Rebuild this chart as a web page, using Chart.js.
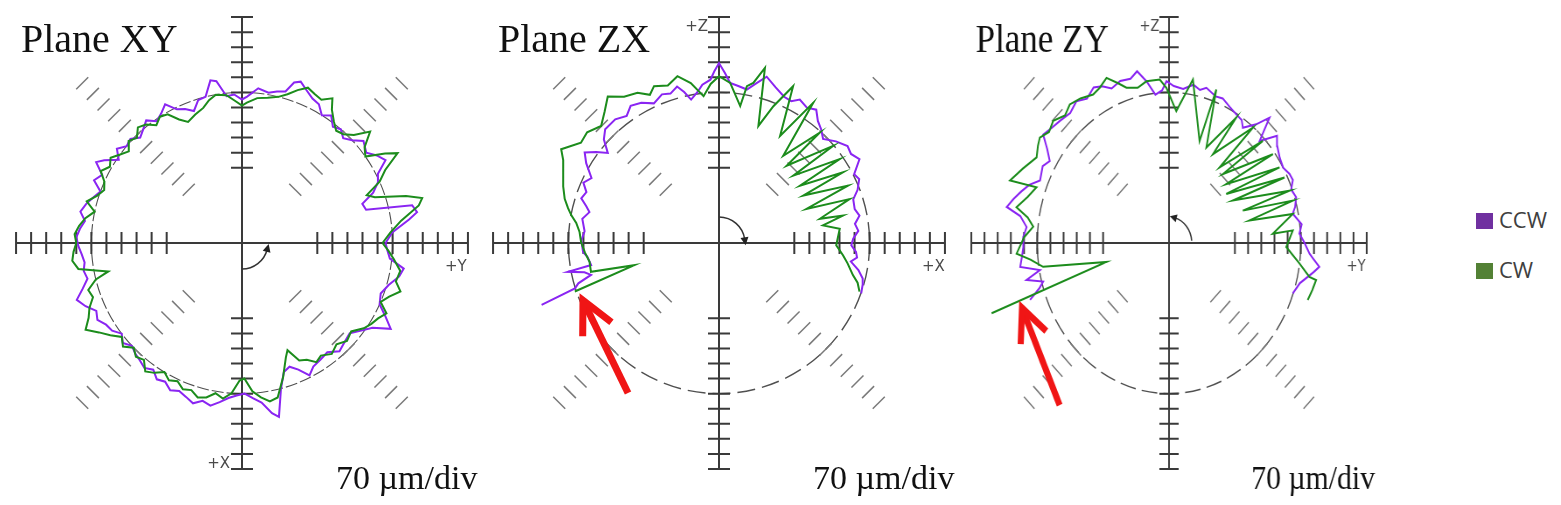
<!DOCTYPE html>
<html>
<head>
<meta charset="utf-8">
<script src="https://cdn.jsdelivr.net/npm/chart.js@4.4.1/dist/chart.umd.min.js"></script>
<style>
  body { margin: 0; background: #fff; width: 1561px; height: 505px; overflow: hidden; position: relative; }
  .panel { position: absolute; top: 0; width: 482px; height: 505px; }
  .panel canvas { position: absolute; left: 0; top: 0; }
  .legend { position: absolute; left: 1476px; font: 22px "Open Sans", sans-serif; color: #404040; line-height: 22px; }
  .legend span { display: inline-block; width: 17px; height: 16px; vertical-align: -1px; margin-right: 6px; }
</style>
</head>
<body>
<div class="panel" id="p1" style="left:1px"><canvas id="c1" width="482" height="505"></canvas></div>
<div class="panel" id="p2" style="left:478px"><canvas id="c2" width="482" height="505"></canvas></div>
<div class="panel" id="p3" style="left:928px; transform: scaleX(0.875); transform-origin: 241px 0;"><canvas id="c3" width="482" height="505"></canvas></div>
<div class="legend" style="top:208px"><span style="background:#7030a0"></span>CCW</div>
<div class="legend" style="top:258px"><span style="background:#538135"></span>CW</div>

<script>
const REF_DIV = 10;      // reference circle radius, in divisions
const UM_PER_DIV = 70;   // plot scale
const AXIS_DIV = 15;

// tick positions along the axes and the diagonals (divisions from centre)
const axisTicks = [5, 6, 7, 8, 9, 10, 11, 12, 13, 14, 15];
const diagTicks = [5, 6, 7, 8, 9, 10, 11, 12, 13, 14, 15];

// traces: [angle in degrees, radial deviation in µm]
const xyCcw = [
  [0, -33], [4, 0], [8, 84], [10, 126], [12.5, 110], [15, -103], [18, -112], [21, -47], [24, -9], [27, 9],
  [30, 70], [33, 47], [36, 14], [40, 37], [43, 0], [46, -23], [49, 0], [52, -14], [55, 23], [58, 0],
  [61, 37], [64, 47], [67, 70], [70, 98], [72, 84], [74, 33], [77, 23], [80, 9], [84, 23], [88, -19],
  [90, -33], [93, -9], [96, -14], [99, 61], [101, 70], [104, 0], [107, -5], [110, -47], [113, -23], [116, -9],
  [119, 37], [122, 9], [125, -9], [128, 23], [131, 0], [134, -19], [137, 9], [140, 0], [143, 28], [146, -9],
  [149, 47], [151, 75], [154, 23], [157, 47], [160, 0], [163, 23], [166, 47], [169, 65], [172, 37], [175, 56],
  [178, 70], [181, 61], [184, 47], [187, 37], [190, 47], [193, 37], [196, 70], [199, 112], [202, 84], [205, 47],
  [208, 61], [211, 37], [214, 28], [217, 0], [220, 23], [223, 0], [226, 14], [229, 23], [232, 37], [235, 19],
  [238, 47], [241, 37], [244, 61], [247, 47], [250, 61], [253, 79], [256, 56], [259, 70], [262, 47], [265, 23],
  [268, 9], [271, 0], [274, 23], [277, 47], [280, 103], [282, 126], [285, 0], [288, -70], [291, -84], [294, -56],
  [297, -9], [300, -37], [304, -47], [308, -56], [312, -23], [316, -37], [320, -47], [324, -9], [327, 23], [330, 98],
  [333, 47], [336, 0], [340, -14], [344, 9], [348, 47], [351, 61], [354, -9], [357, -23], [360, -33]
];
const xyCw = [
  [0, -47], [4, -9], [8, 47], [12, 140], [14, 163], [16, 93], [19, -47], [21, -79], [24, 0], [27, 47],
  [30, 135], [32, 84], [35, 0], [38, 23], [41, 89], [44, 23], [47, -9], [50, -19], [53, 9], [56, 47],
  [58, 93], [61, 61], [64, 70], [67, 84], [70, 56], [73, 23], [76, 0], [80, -14], [84, -23], [88, -47],
  [90, -61], [93, -37], [96, -9], [100, 0], [103, -19], [106, -47], [110, -65], [114, -84], [117, -56], [120, -9],
  [123, 0], [126, -23], [129, 9], [132, 23], [135, -9], [138, 9], [141, -23], [144, 0], [147, 28], [150, 9],
  [153, 37], [156, 0], [159, -14], [162, 9], [165, 47], [168, 0], [171, 37], [174, 61], [177, 79], [180, 70],
  [183, 84], [186, 93], [189, 70], [192, -65], [194, 0], [197, 47], [200, 37], [203, 70], [206, 93], [209, 131],
  [212, 84], [215, 47], [218, 9], [221, 33], [224, 0], [227, 23], [230, 9], [233, 47], [236, 28], [239, 0],
  [242, 23], [245, 9], [248, 33], [251, 23], [254, 47], [257, 37], [260, 9], [263, 28], [266, 0], [269, -61],
  [271, -70], [274, -9], [277, 23], [280, 47], [283, 37], [287, -47], [291, -131], [293, -159], [296, -93], [299, -79],
  [302, -47], [305, -61], [309, -37], [313, -56], [317, -33], [321, -47], [325, -9], [328, 9], [331, 23], [334, 47],
  [337, 0], [340, 28], [343, 70], [346, 37], [350, 47], [354, 9], [357, -19], [360, -47]
];

const zxCcw = [
  [-19.5, 1], [-16, -5], [-13.9, -12], [-11, -40], [-8, -81], [-6, -55], [-3.7, -62], [-1, -85], [1.8, -76], [5, -50],
  [8, -62], [11, -35], [14, -50], [18, -44], [21, -10], [24.5, 16], [27, 5], [30.8, 60], [34, 40], [37, 48],
  [41, 20], [45, -16], [48, 10], [51, 30], [53.9, 67], [57, 50], [60.6, 65], [63, 40], [66, 44], [70, 70],
  [74, 104], [77, 60], [79.7, 25], [83, 35], [86, 46], [88, 90], [90, 136], [91.5, 100], [93, 60], [96, 40],
  [98, 10], [101, -21], [103, 20], [105, 53], [108, 30], [111, 40], [115, 16], [119, 45], [122.8, 58], [126, 30],
  [130, 50], [135, 48], [138, 20], [141, -35], [143.5, 10], [146, 53], [149, 20], [153, -35], [156, -10], [159, -40],
  [162, -27], [164.5, -60], [166.6, -81], [170, -55], [175, -73], [179, -60], [183.8, -67], [186, -85], [189.8, -97], [190.8, 15],
  [192.3, -60], [194, -87], [196, -20], [197.5, 2], [199.2, 173]
];
const zxCw = [
  [-19.1, -9], [-16, -30], [-13.5, -60], [-9, -95], [-5.6, -121], [-1.1, -155], [6.7, -135], [9.6, -210], [12.5, -110], [13.5, -218],
  [18.6, -60], [21.3, -264], [24, -44], [29.4, -251], [29.7, -37], [35.3, -239], [34.8, -17], [42.2, -234], [40.4, -4], [48.8, -223],
  [47.6, -6], [53.6, -197], [56.1, 85], [60.3, -127], [64.7, 106], [68.3, -16], [71.4, -126], [75.3, 141], [77.9, 61], [79.9, 40],
  [81.2, -56], [86, 46], [90, 75], [93, 40], [96, -14], [100, 55], [104, 99], [108, 70], [112.5, 89], [115, 60],
  [118.5, 94], [123, 110], [127.2, 155], [131, 110], [135.2, 72], [140, 100], [144, 93], [149.3, 153], [152, 120], [155.7, 95],
  [160, 70], [164, 46], [167, 20], [169.4, -2], [172, -30], [175.5, -50], [179.6, -59], [184, -75], [188.3, -92], [192.7, -90],
  [194.7, -293], [198.6, 7]
];

const zyCcw = [
  [-19.6, -2], [-15, 20], [-10, 80], [-7.9, 106], [-5.5, 70], [-3.8, 48], [0, 20], [3.6, -6], [7, 10], [11.7, -29],
  [14, -10], [17.5, 8], [21, -5], [24, 20], [26.6, 16], [30, 0], [34, 9], [38, 30], [41, 60], [44.6, -24],
  [47.5, 90], [50, 20], [53.8, -36], [56, -10], [59, -4], [63, 10], [67, 30], [70, 25], [74.6, 48], [77, 30],
  [80, 47], [84, 20], [88, 30], [91, 52], [93, 10], [96, -7], [99, 60], [102, 116], [105, 90], [109, 96],
  [113, 80], [116, 110], [119, 126], [123, 100], [126.8, 122], [131, 100], [135.6, 111], [139, 120], [143, 137], [146, 80],
  [149, 39], [152, 60], [157, 44], [160, 90], [163, 120], [166, 150], [169, 178], [171, 100], [174.4, 60], [178, 75],
  [181.4, 74], [185, 85], [188, 98], [190.4, -3], [192.8, 76], [195, -8], [197, 20], [199.7, 84]
];
const zyCw = [
  [-19.8, 83], [-16, 92], [-12.4, 100], [-11.9, 62], [-7.8, -1], [-1.7, -77], [5.1, -40], [4.5, -147], [11.6, -29], [13.8, -260],
  [16.7, -14], [21, -280], [20.8, -15], [30.2, -307], [26.4, -15], [36.9, -320], [30.9, -16], [42, -291], [36.8, -11], [48.2, -270],
  [43.6, -12], [52.6, -258], [50.3, -3], [60.5, -226], [58.5, -17], [65.9, -214], [70.6, 56], [71.1, -199], [80.5, 70], [86.4, -86],
  [91.1, 21], [93.7, 61], [99.1, 61], [103, 40], [107.4, 56], [110, 90], [113.4, 136], [117, 110], [120.3, 99], [125, 120],
  [129.3, 132], [133, 110], [137.3, 137], [141, 120], [144.5, 143], [147, 130], [150.5, 108], [156, 150], [161, 193], [159.8, 50],
  [164, 80], [168.4, 127], [171, 60], [174, 25], [178, 70], [183.5, 111], [186, 40], [189.4, -22], [194.8, -356], [199.1, 297]
];

const CCW_COLOR = '#8a25f2';
const CW_COLOR = '#1c8c1c';

// polar deviation -> plot coordinates in divisions
function toPoints(trace) {
  return trace.map(([deg, um]) => {
    const r = REF_DIV + um / UM_PER_DIV;
    const a = deg * Math.PI / 180;
    return { x: r * Math.cos(a), y: r * Math.sin(a) };
  });
}

function makeDecor(cfg) {
  return {
    id: 'decor',
    beforeDatasetsDraw(chart) {
      const { ctx, scales: { x, y } } = chart;
      const px = v => x.getPixelForValue(v), py = v => y.getPixelForValue(v);
      const cx = px(0), cy = py(0);
      ctx.save();

      // reference circle
      ctx.strokeStyle = '#505050';
      ctx.lineWidth = cfg.circleWidth;
      ctx.setLineDash(cfg.circleDash);
      ctx.beginPath();
      ctx.ellipse(cx, cy, px(REF_DIV) - cx, cy - py(REF_DIV), 0, 0, Math.PI * 2);
      ctx.stroke();
      ctx.setLineDash([]);

      // hatch marks on the diagonals
      ctx.strokeStyle = '#7a7a7a';
      ctx.lineWidth = 1.5;
      [45, 135, 225, 315].forEach(deg => {
        const a = deg * Math.PI / 180, c = Math.cos(a), s = Math.sin(a);
        diagTicks.forEach(d => {
          const hx = px(d * c), hy = py(d * s);
          ctx.beginPath();
          ctx.moveTo(hx - s * 8.5, hy - c * 8.5);
          ctx.lineTo(hx + s * 8.5, hy + c * 8.5);
          ctx.stroke();
        });
      });

      // axes and ticks
      ctx.strokeStyle = '#3a3a3a';
      ctx.lineWidth = 2;
      ctx.beginPath();
      ctx.moveTo(px(-AXIS_DIV), cy); ctx.lineTo(px(AXIS_DIV), cy);
      ctx.moveTo(cx, py(AXIS_DIV)); ctx.lineTo(cx, py(-AXIS_DIV));
      axisTicks.forEach(d => {
        [d, -d].forEach(v => {
          ctx.moveTo(px(v), cy - 11); ctx.lineTo(px(v), cy + 11);
          ctx.moveTo(cx - 11, py(v)); ctx.lineTo(cx + 11, py(v));
        });
      });
      ctx.stroke();

      // rotation direction arc
      const t = cfg.turn;
      const r = 26;
      const a0 = t.from * Math.PI / 180, a1 = t.to * Math.PI / 180;
      ctx.strokeStyle = '#333';
      ctx.lineWidth = 1.5;
      ctx.beginPath();
      ctx.arc(cx, cy, r, a0, a1, t.anti);
      ctx.stroke();
      const ex = cx + r * Math.cos(a1), ey = cy + r * Math.sin(a1);
      const sgn = t.anti ? -1 : 1;
      const tx = -Math.sin(a1) * sgn, ty = Math.cos(a1) * sgn;
      ctx.fillStyle = '#222';
      ctx.beginPath();
      ctx.moveTo(ex + tx * 6, ey + ty * 6);
      ctx.lineTo(ex - tx * 2 - ty * 4, ey - ty * 2 + tx * 4);
      ctx.lineTo(ex - tx * 2 + ty * 4, ey - ty * 2 - tx * 4);
      ctx.closePath();
      ctx.fill();
      ctx.restore();
    },
    afterDatasetsDraw(chart) {
      const { ctx, scales: { x, y } } = chart;
      const px = v => x.getPixelForValue(v), py = v => y.getPixelForValue(v);
      const cx = px(0), cy = py(0);
      ctx.save();

      // red pointer arrow
      if (cfg.arrow) {
        const [tipX, tipY] = cfg.arrow.tip, [tailX, tailY] = cfg.arrow.tail;
        const hx = px(tipX), hy = py(tipY), bx = px(tailX), by = py(tailY);
        const ang = Math.atan2(by - hy, bx - hx);
        ctx.strokeStyle = '#f01515';
        ctx.lineWidth = 7;
        ctx.lineCap = 'butt';
        ctx.lineJoin = 'miter';
        ctx.beginPath();
        ctx.moveTo(bx, by); ctx.lineTo(hx, hy);
        ctx.stroke();
        ctx.beginPath();
        ctx.moveTo(hx + 36 * Math.cos(ang + 0.46), hy + 36 * Math.sin(ang + 0.46));
        ctx.lineTo(hx, hy);
        ctx.lineTo(hx + 36 * Math.cos(ang - 0.46), hy + 36 * Math.sin(ang - 0.46));
        ctx.stroke();
      }

      // texts
      ctx.fillStyle = '#111';
      ctx.textBaseline = 'alphabetic';
      ctx.textAlign = 'left';
      ctx.font = '40px "Liberation Serif", serif';
      ctx.fillText(cfg.title, cx - 221, cy - 191);
      ctx.font = '34px "Liberation Serif", serif';
      ctx.fillText('70 µm/div', cx + 94, cy + 246);

      ctx.fillStyle = '#4a4a4a';
      ctx.font = '15px "DejaVu Sans", sans-serif';
      ctx.fillText(cfg.right, cx + 203, cy + 28);
      ctx.textAlign = 'right';
      if (cfg.top) ctx.fillText(cfg.top, cx - 11, cy - 212);
      if (cfg.bottom) ctx.fillText(cfg.bottom, cx - 12, cy + 225);
      ctx.restore();
    }
  };
}

function drawPanel(canvasId, ccw, cw, cfg) {
  new Chart(document.getElementById(canvasId), {
    type: 'scatter',
    data: {
      datasets: [
        { label: 'CW', data: toPoints(cw), borderColor: CW_COLOR },
        { label: 'CCW', data: toPoints(ccw), borderColor: CCW_COLOR }
      ].map(ds => Object.assign(ds, { showLine: true, borderWidth: 2, pointRadius: 0, tension: 0, fill: false }))
    },
    options: {
      responsive: false,
      animation: false,
      layout: { padding: { top: 2, bottom: 21, left: 0, right: 0 } },
      scales: {
        x: { type: 'linear', min: -16, max: 16, display: false },
        y: { type: 'linear', min: -16, max: 16, display: false }
      },
      plugins: { legend: { display: false }, tooltip: { enabled: false } }
    },
    plugins: [makeDecor(cfg)]
  });
}

drawPanel('c1', xyCcw, xyCw, {
  title: 'Plane XY', right: '+Y', bottom: '+X',
  circleDash: [12, 3], circleWidth: 1.1,
  turn: { from: 90, to: 15, anti: true }
});
drawPanel('c2', zxCcw, zxCw, {
  title: 'Plane ZX', right: '+X', top: '+Z',
  circleDash: [18, 7], circleWidth: 1.4,
  turn: { from: -90, to: -8, anti: false },
  arrow: { tip: [-9.03, -3.8], tail: [-6.04, -9.96] }
});
drawPanel('c3', zyCcw, zyCw, {
  title: 'Plane ZY', right: '+Y', top: '+Z',
  circleDash: [18, 7], circleWidth: 1.4,
  turn: { from: -5, to: -75, anti: true },
  arrow: { tip: [-11.15, -4.32], tail: [-8.3, -10.76] }
});
</script>
</body>
</html>
